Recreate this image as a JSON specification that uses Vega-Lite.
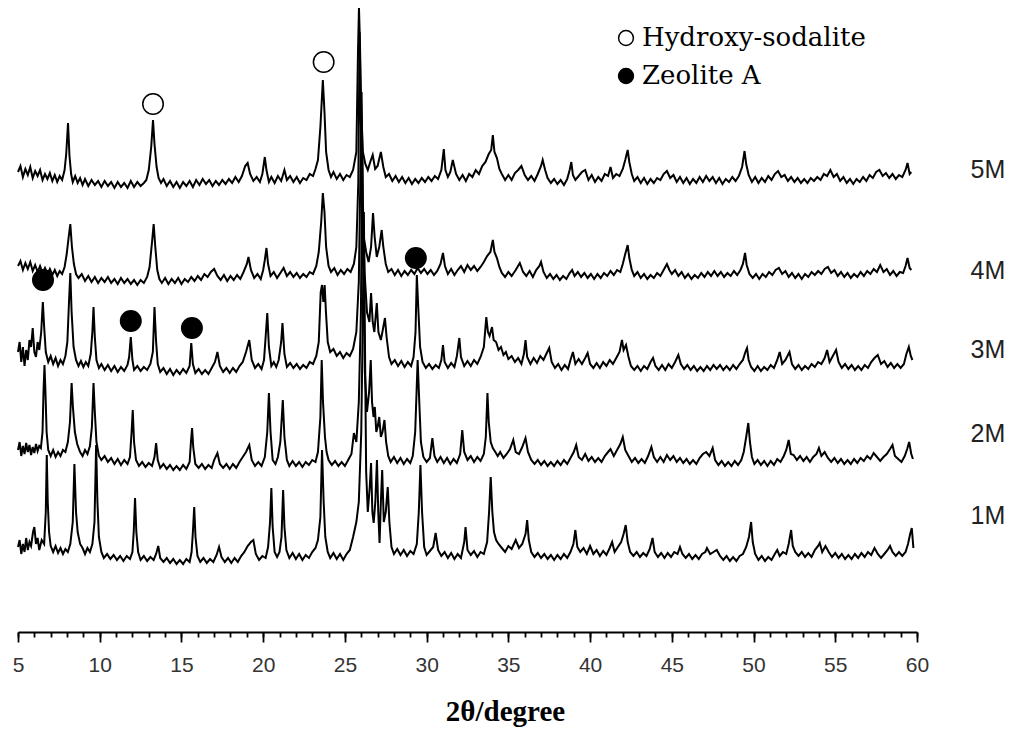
{
"$schema":"https://vega.github.io/schema/vega-lite/v6.json",
"width":899,"height":632,
"autosize":{"type":"none"},
"padding":{"left":18,"top":0,"right":94,"bottom":97},
"background":"white",
"config":{"view":{"stroke":null},"axis":{"grid":false}},
"datasets":{
"traces":[
{"s":5,"x":5.0,"y":460},{"s":5,"x":5.15,"y":466},{"s":5,"x":5.3,"y":455},{"s":5,"x":5.45,"y":463},{"s":5,"x":5.6,"y":457},{"s":5,"x":5.75,"y":465},{"s":5,"x":5.9,"y":454},{"s":5,"x":6.05,"y":461},{"s":5,"x":6.2,"y":456},{"s":5,"x":6.35,"y":462},{"s":5,"x":6.5,"y":452},{"s":5,"x":6.65,"y":458},{"s":5,"x":6.8,"y":453},{"s":5,"x":6.95,"y":459},{"s":5,"x":7.1,"y":451},{"s":5,"x":7.25,"y":457},{"s":5,"x":7.4,"y":450},{"s":5,"x":7.55,"y":456},{"s":5,"x":7.7,"y":452},{"s":5,"x":7.85,"y":462},{"s":5,"x":7.95,"y":478},{"s":5,"x":8.06,"y":509},{"s":5,"x":8.15,"y":476},{"s":5,"x":8.25,"y":458},{"s":5,"x":8.35,"y":450},{"s":5,"x":8.5,"y":456},{"s":5,"x":8.65,"y":449},{"s":5,"x":8.8,"y":454},{"s":5,"x":8.95,"y":447},{"s":5,"x":9.1,"y":453},{"s":5,"x":9.3,"y":446},{"s":5,"x":9.5,"y":452},{"s":5,"x":9.7,"y":447},{"s":5,"x":9.9,"y":451},{"s":5,"x":10.1,"y":445},{"s":5,"x":10.3,"y":451},{"s":5,"x":10.5,"y":446},{"s":5,"x":10.7,"y":450},{"s":5,"x":10.9,"y":444},{"s":5,"x":11.1,"y":450},{"s":5,"x":11.3,"y":445},{"s":5,"x":11.5,"y":449},{"s":5,"x":11.7,"y":444},{"s":5,"x":11.9,"y":451},{"s":5,"x":12.1,"y":445},{"s":5,"x":12.3,"y":450},{"s":5,"x":12.5,"y":446},{"s":5,"x":12.7,"y":449},{"s":5,"x":12.85,"y":452},{"s":5,"x":13.0,"y":462},{"s":5,"x":13.15,"y":485},{"s":5,"x":13.26,"y":512},{"s":5,"x":13.35,"y":488},{"s":5,"x":13.48,"y":465},{"s":5,"x":13.6,"y":454},{"s":5,"x":13.75,"y":449},{"s":5,"x":13.9,"y":453},{"s":5,"x":14.1,"y":446},{"s":5,"x":14.3,"y":451},{"s":5,"x":14.5,"y":445},{"s":5,"x":14.7,"y":450},{"s":5,"x":14.9,"y":444},{"s":5,"x":15.1,"y":450},{"s":5,"x":15.3,"y":446},{"s":5,"x":15.5,"y":451},{"s":5,"x":15.7,"y":445},{"s":5,"x":15.9,"y":452},{"s":5,"x":16.1,"y":447},{"s":5,"x":16.3,"y":453},{"s":5,"x":16.5,"y":448},{"s":5,"x":16.7,"y":452},{"s":5,"x":16.9,"y":446},{"s":5,"x":17.1,"y":451},{"s":5,"x":17.3,"y":447},{"s":5,"x":17.5,"y":452},{"s":5,"x":17.7,"y":448},{"s":5,"x":17.9,"y":453},{"s":5,"x":18.1,"y":449},{"s":5,"x":18.3,"y":455},{"s":5,"x":18.5,"y":450},{"s":5,"x":18.7,"y":456},{"s":5,"x":18.9,"y":466},{"s":5,"x":19.05,"y":469},{"s":5,"x":19.2,"y":458},{"s":5,"x":19.4,"y":451},{"s":5,"x":19.6,"y":455},{"s":5,"x":19.8,"y":450},{"s":5,"x":19.95,"y":458},{"s":5,"x":20.1,"y":475},{"s":5,"x":20.2,"y":462},{"s":5,"x":20.35,"y":450},{"s":5,"x":20.5,"y":455},{"s":5,"x":20.7,"y":449},{"s":5,"x":20.9,"y":456},{"s":5,"x":21.1,"y":451},{"s":5,"x":21.3,"y":462},{"s":5,"x":21.45,"y":452},{"s":5,"x":21.65,"y":456},{"s":5,"x":21.85,"y":450},{"s":5,"x":22.05,"y":455},{"s":5,"x":22.25,"y":449},{"s":5,"x":22.45,"y":454},{"s":5,"x":22.65,"y":452},{"s":5,"x":22.85,"y":458},{"s":5,"x":23.05,"y":456},{"s":5,"x":23.2,"y":463},{"s":5,"x":23.35,"y":472},{"s":5,"x":23.5,"y":505},{"s":5,"x":23.65,"y":552},{"s":5,"x":23.75,"y":520},{"s":5,"x":23.85,"y":480},{"s":5,"x":24.0,"y":462},{"s":5,"x":24.15,"y":455},{"s":5,"x":24.3,"y":460},{"s":5,"x":24.5,"y":453},{"s":5,"x":24.7,"y":458},{"s":5,"x":24.9,"y":452},{"s":5,"x":25.1,"y":457},{"s":5,"x":25.3,"y":455},{"s":5,"x":25.5,"y":462},{"s":5,"x":25.7,"y":480},{"s":5,"x":25.8,"y":580},{"s":5,"x":25.86,"y":624},{"s":5,"x":25.92,"y":590},{"s":5,"x":26.0,"y":520},{"s":5,"x":26.1,"y":480},{"s":5,"x":26.25,"y":468},{"s":5,"x":26.4,"y":462},{"s":5,"x":26.55,"y":470},{"s":5,"x":26.7,"y":477},{"s":5,"x":26.85,"y":463},{"s":5,"x":27.0,"y":466},{"s":5,"x":27.2,"y":480},{"s":5,"x":27.35,"y":465},{"s":5,"x":27.5,"y":455},{"s":5,"x":27.7,"y":458},{"s":5,"x":27.9,"y":451},{"s":5,"x":28.1,"y":456},{"s":5,"x":28.3,"y":450},{"s":5,"x":28.5,"y":455},{"s":5,"x":28.7,"y":449},{"s":5,"x":28.9,"y":454},{"s":5,"x":29.1,"y":448},{"s":5,"x":29.3,"y":453},{"s":5,"x":29.5,"y":449},{"s":5,"x":29.7,"y":454},{"s":5,"x":29.9,"y":450},{"s":5,"x":30.1,"y":455},{"s":5,"x":30.3,"y":451},{"s":5,"x":30.5,"y":456},{"s":5,"x":30.7,"y":453},{"s":5,"x":30.9,"y":462},{"s":5,"x":31.05,"y":483},{"s":5,"x":31.15,"y":462},{"s":5,"x":31.3,"y":455},{"s":5,"x":31.45,"y":460},{"s":5,"x":31.6,"y":472},{"s":5,"x":31.8,"y":458},{"s":5,"x":32.0,"y":452},{"s":5,"x":32.2,"y":457},{"s":5,"x":32.4,"y":451},{"s":5,"x":32.6,"y":458},{"s":5,"x":32.8,"y":455},{"s":5,"x":33.0,"y":462},{"s":5,"x":33.2,"y":458},{"s":5,"x":33.4,"y":466},{"s":5,"x":33.6,"y":470},{"s":5,"x":33.8,"y":478},{"s":5,"x":33.95,"y":482},{"s":5,"x":34.05,"y":497},{"s":5,"x":34.15,"y":480},{"s":5,"x":34.3,"y":474},{"s":5,"x":34.45,"y":463},{"s":5,"x":34.6,"y":458},{"s":5,"x":34.8,"y":452},{"s":5,"x":35.0,"y":457},{"s":5,"x":35.2,"y":452},{"s":5,"x":35.4,"y":459},{"s":5,"x":35.6,"y":462},{"s":5,"x":35.8,"y":466},{"s":5,"x":36.0,"y":457},{"s":5,"x":36.2,"y":452},{"s":5,"x":36.4,"y":456},{"s":5,"x":36.6,"y":451},{"s":5,"x":36.8,"y":458},{"s":5,"x":37.0,"y":466},{"s":5,"x":37.1,"y":472},{"s":5,"x":37.25,"y":462},{"s":5,"x":37.4,"y":454},{"s":5,"x":37.6,"y":449},{"s":5,"x":37.8,"y":453},{"s":5,"x":38.0,"y":448},{"s":5,"x":38.2,"y":452},{"s":5,"x":38.4,"y":447},{"s":5,"x":38.6,"y":453},{"s":5,"x":38.75,"y":462},{"s":5,"x":38.85,"y":470},{"s":5,"x":38.95,"y":457},{"s":5,"x":39.1,"y":452},{"s":5,"x":39.3,"y":456},{"s":5,"x":39.5,"y":460},{"s":5,"x":39.7,"y":462},{"s":5,"x":39.9,"y":452},{"s":5,"x":40.1,"y":457},{"s":5,"x":40.3,"y":450},{"s":5,"x":40.5,"y":455},{"s":5,"x":40.7,"y":451},{"s":5,"x":40.9,"y":458},{"s":5,"x":41.1,"y":456},{"s":5,"x":41.25,"y":465},{"s":5,"x":41.4,"y":454},{"s":5,"x":41.6,"y":458},{"s":5,"x":41.8,"y":456},{"s":5,"x":42.0,"y":463},{"s":5,"x":42.15,"y":472},{"s":5,"x":42.3,"y":482},{"s":5,"x":42.4,"y":470},{"s":5,"x":42.55,"y":458},{"s":5,"x":42.7,"y":451},{"s":5,"x":42.9,"y":455},{"s":5,"x":43.1,"y":449},{"s":5,"x":43.3,"y":454},{"s":5,"x":43.5,"y":448},{"s":5,"x":43.7,"y":453},{"s":5,"x":43.9,"y":449},{"s":5,"x":44.1,"y":454},{"s":5,"x":44.3,"y":452},{"s":5,"x":44.5,"y":458},{"s":5,"x":44.7,"y":461},{"s":5,"x":44.9,"y":454},{"s":5,"x":45.1,"y":457},{"s":5,"x":45.3,"y":450},{"s":5,"x":45.5,"y":455},{"s":5,"x":45.7,"y":449},{"s":5,"x":45.9,"y":454},{"s":5,"x":46.1,"y":448},{"s":5,"x":46.3,"y":453},{"s":5,"x":46.5,"y":449},{"s":5,"x":46.7,"y":455},{"s":5,"x":46.9,"y":450},{"s":5,"x":47.1,"y":456},{"s":5,"x":47.3,"y":451},{"s":5,"x":47.5,"y":455},{"s":5,"x":47.7,"y":449},{"s":5,"x":47.9,"y":454},{"s":5,"x":48.1,"y":448},{"s":5,"x":48.3,"y":453},{"s":5,"x":48.5,"y":450},{"s":5,"x":48.7,"y":455},{"s":5,"x":48.9,"y":451},{"s":5,"x":49.1,"y":456},{"s":5,"x":49.3,"y":465},{"s":5,"x":49.45,"y":481},{"s":5,"x":49.55,"y":468},{"s":5,"x":49.7,"y":457},{"s":5,"x":49.9,"y":450},{"s":5,"x":50.1,"y":455},{"s":5,"x":50.3,"y":449},{"s":5,"x":50.5,"y":454},{"s":5,"x":50.7,"y":450},{"s":5,"x":50.9,"y":456},{"s":5,"x":51.1,"y":452},{"s":5,"x":51.3,"y":458},{"s":5,"x":51.5,"y":461},{"s":5,"x":51.7,"y":455},{"s":5,"x":51.9,"y":457},{"s":5,"x":52.1,"y":451},{"s":5,"x":52.3,"y":455},{"s":5,"x":52.5,"y":450},{"s":5,"x":52.7,"y":454},{"s":5,"x":52.9,"y":449},{"s":5,"x":53.1,"y":453},{"s":5,"x":53.3,"y":449},{"s":5,"x":53.5,"y":454},{"s":5,"x":53.7,"y":451},{"s":5,"x":53.9,"y":455},{"s":5,"x":54.1,"y":452},{"s":5,"x":54.3,"y":458},{"s":5,"x":54.5,"y":456},{"s":5,"x":54.7,"y":462},{"s":5,"x":54.9,"y":455},{"s":5,"x":55.1,"y":458},{"s":5,"x":55.3,"y":451},{"s":5,"x":55.5,"y":455},{"s":5,"x":55.7,"y":449},{"s":5,"x":55.9,"y":453},{"s":5,"x":56.1,"y":448},{"s":5,"x":56.3,"y":453},{"s":5,"x":56.5,"y":450},{"s":5,"x":56.7,"y":455},{"s":5,"x":56.9,"y":451},{"s":5,"x":57.1,"y":457},{"s":5,"x":57.3,"y":454},{"s":5,"x":57.5,"y":460},{"s":5,"x":57.7,"y":462},{"s":5,"x":57.9,"y":456},{"s":5,"x":58.1,"y":459},{"s":5,"x":58.3,"y":454},{"s":5,"x":58.5,"y":458},{"s":5,"x":58.7,"y":453},{"s":5,"x":58.9,"y":457},{"s":5,"x":59.1,"y":455},{"s":5,"x":59.3,"y":462},{"s":5,"x":59.42,"y":469},{"s":5,"x":59.55,"y":458},{"s":5,"x":59.65,"y":460},
{"s":4,"x":5.0,"y":366},{"s":4,"x":5.15,"y":371},{"s":4,"x":5.3,"y":362},{"s":4,"x":5.45,"y":369},{"s":4,"x":5.6,"y":363},{"s":4,"x":5.75,"y":370},{"s":4,"x":5.9,"y":361},{"s":4,"x":6.05,"y":367},{"s":4,"x":6.2,"y":360},{"s":4,"x":6.35,"y":366},{"s":4,"x":6.5,"y":359},{"s":4,"x":6.65,"y":364},{"s":4,"x":6.8,"y":358},{"s":4,"x":6.95,"y":363},{"s":4,"x":7.1,"y":357},{"s":4,"x":7.25,"y":362},{"s":4,"x":7.4,"y":356},{"s":4,"x":7.55,"y":361},{"s":4,"x":7.7,"y":358},{"s":4,"x":7.85,"y":365},{"s":4,"x":7.98,"y":378},{"s":4,"x":8.1,"y":395},{"s":4,"x":8.2,"y":408},{"s":4,"x":8.3,"y":385},{"s":4,"x":8.42,"y":368},{"s":4,"x":8.55,"y":358},{"s":4,"x":8.7,"y":354},{"s":4,"x":8.9,"y":358},{"s":4,"x":9.1,"y":351},{"s":4,"x":9.3,"y":356},{"s":4,"x":9.5,"y":350},{"s":4,"x":9.7,"y":355},{"s":4,"x":9.9,"y":349},{"s":4,"x":10.1,"y":354},{"s":4,"x":10.3,"y":350},{"s":4,"x":10.5,"y":355},{"s":4,"x":10.7,"y":349},{"s":4,"x":10.9,"y":353},{"s":4,"x":11.1,"y":348},{"s":4,"x":11.3,"y":354},{"s":4,"x":11.5,"y":349},{"s":4,"x":11.7,"y":353},{"s":4,"x":11.9,"y":348},{"s":4,"x":12.1,"y":352},{"s":4,"x":12.3,"y":347},{"s":4,"x":12.5,"y":352},{"s":4,"x":12.7,"y":349},{"s":4,"x":12.9,"y":355},{"s":4,"x":13.05,"y":365},{"s":4,"x":13.2,"y":390},{"s":4,"x":13.3,"y":408},{"s":4,"x":13.4,"y":385},{"s":4,"x":13.52,"y":362},{"s":4,"x":13.65,"y":353},{"s":4,"x":13.8,"y":349},{"s":4,"x":14.0,"y":354},{"s":4,"x":14.2,"y":348},{"s":4,"x":14.4,"y":353},{"s":4,"x":14.6,"y":349},{"s":4,"x":14.8,"y":354},{"s":4,"x":15.0,"y":348},{"s":4,"x":15.2,"y":353},{"s":4,"x":15.4,"y":350},{"s":4,"x":15.6,"y":355},{"s":4,"x":15.8,"y":351},{"s":4,"x":16.0,"y":356},{"s":4,"x":16.2,"y":352},{"s":4,"x":16.4,"y":358},{"s":4,"x":16.6,"y":355},{"s":4,"x":16.8,"y":360},{"s":4,"x":17.0,"y":363},{"s":4,"x":17.2,"y":356},{"s":4,"x":17.4,"y":352},{"s":4,"x":17.6,"y":357},{"s":4,"x":17.8,"y":351},{"s":4,"x":18.0,"y":356},{"s":4,"x":18.2,"y":352},{"s":4,"x":18.4,"y":357},{"s":4,"x":18.6,"y":353},{"s":4,"x":18.8,"y":360},{"s":4,"x":19.0,"y":368},{"s":4,"x":19.1,"y":375},{"s":4,"x":19.25,"y":362},{"s":4,"x":19.45,"y":354},{"s":4,"x":19.65,"y":358},{"s":4,"x":19.85,"y":353},{"s":4,"x":20.0,"y":362},{"s":4,"x":20.1,"y":372},{"s":4,"x":20.2,"y":384},{"s":4,"x":20.3,"y":368},{"s":4,"x":20.45,"y":356},{"s":4,"x":20.65,"y":360},{"s":4,"x":20.85,"y":354},{"s":4,"x":21.05,"y":359},{"s":4,"x":21.25,"y":364},{"s":4,"x":21.45,"y":356},{"s":4,"x":21.65,"y":360},{"s":4,"x":21.85,"y":355},{"s":4,"x":22.05,"y":359},{"s":4,"x":22.25,"y":354},{"s":4,"x":22.45,"y":358},{"s":4,"x":22.65,"y":355},{"s":4,"x":22.85,"y":360},{"s":4,"x":23.05,"y":358},{"s":4,"x":23.25,"y":366},{"s":4,"x":23.4,"y":380},{"s":4,"x":23.55,"y":410},{"s":4,"x":23.65,"y":439},{"s":4,"x":23.75,"y":420},{"s":4,"x":23.85,"y":385},{"s":4,"x":24.0,"y":366},{"s":4,"x":24.15,"y":360},{"s":4,"x":24.35,"y":364},{"s":4,"x":24.55,"y":357},{"s":4,"x":24.75,"y":362},{"s":4,"x":24.95,"y":358},{"s":4,"x":25.15,"y":363},{"s":4,"x":25.35,"y":360},{"s":4,"x":25.55,"y":368},{"s":4,"x":25.7,"y":385},{"s":4,"x":25.82,"y":450},{"s":4,"x":25.9,"y":600},{"s":4,"x":25.97,"y":520},{"s":4,"x":26.05,"y":430},{"s":4,"x":26.15,"y":395},{"s":4,"x":26.3,"y":380},{"s":4,"x":26.45,"y":370},{"s":4,"x":26.6,"y":385},{"s":4,"x":26.72,"y":419},{"s":4,"x":26.82,"y":395},{"s":4,"x":26.95,"y":375},{"s":4,"x":27.1,"y":385},{"s":4,"x":27.25,"y":402},{"s":4,"x":27.35,"y":385},{"s":4,"x":27.5,"y":368},{"s":4,"x":27.65,"y":360},{"s":4,"x":27.85,"y":363},{"s":4,"x":28.05,"y":357},{"s":4,"x":28.25,"y":362},{"s":4,"x":28.45,"y":356},{"s":4,"x":28.65,"y":361},{"s":4,"x":28.85,"y":357},{"s":4,"x":29.05,"y":362},{"s":4,"x":29.25,"y":358},{"s":4,"x":29.45,"y":364},{"s":4,"x":29.65,"y":359},{"s":4,"x":29.85,"y":363},{"s":4,"x":30.05,"y":358},{"s":4,"x":30.25,"y":362},{"s":4,"x":30.45,"y":357},{"s":4,"x":30.65,"y":361},{"s":4,"x":30.85,"y":368},{"s":4,"x":31.0,"y":379},{"s":4,"x":31.12,"y":366},{"s":4,"x":31.3,"y":358},{"s":4,"x":31.5,"y":363},{"s":4,"x":31.7,"y":357},{"s":4,"x":31.9,"y":362},{"s":4,"x":32.1,"y":366},{"s":4,"x":32.3,"y":360},{"s":4,"x":32.5,"y":367},{"s":4,"x":32.7,"y":362},{"s":4,"x":32.9,"y":366},{"s":4,"x":33.1,"y":361},{"s":4,"x":33.3,"y":365},{"s":4,"x":33.5,"y":370},{"s":4,"x":33.7,"y":376},{"s":4,"x":33.9,"y":380},{"s":4,"x":34.05,"y":392},{"s":4,"x":34.15,"y":380},{"s":4,"x":34.3,"y":374},{"s":4,"x":34.45,"y":365},{"s":4,"x":34.6,"y":359},{"s":4,"x":34.8,"y":355},{"s":4,"x":35.0,"y":360},{"s":4,"x":35.2,"y":356},{"s":4,"x":35.45,"y":362},{"s":4,"x":35.7,"y":369},{"s":4,"x":35.9,"y":360},{"s":4,"x":36.1,"y":356},{"s":4,"x":36.3,"y":361},{"s":4,"x":36.5,"y":355},{"s":4,"x":36.7,"y":362},{"s":4,"x":36.9,"y":366},{"s":4,"x":37.0,"y":370},{"s":4,"x":37.15,"y":360},{"s":4,"x":37.35,"y":354},{"s":4,"x":37.55,"y":358},{"s":4,"x":37.75,"y":353},{"s":4,"x":37.95,"y":357},{"s":4,"x":38.15,"y":352},{"s":4,"x":38.35,"y":356},{"s":4,"x":38.55,"y":353},{"s":4,"x":38.75,"y":359},{"s":4,"x":38.9,"y":362},{"s":4,"x":39.05,"y":356},{"s":4,"x":39.25,"y":360},{"s":4,"x":39.45,"y":355},{"s":4,"x":39.65,"y":359},{"s":4,"x":39.85,"y":354},{"s":4,"x":40.05,"y":358},{"s":4,"x":40.25,"y":353},{"s":4,"x":40.45,"y":358},{"s":4,"x":40.65,"y":354},{"s":4,"x":40.85,"y":359},{"s":4,"x":41.05,"y":356},{"s":4,"x":41.25,"y":361},{"s":4,"x":41.45,"y":357},{"s":4,"x":41.65,"y":362},{"s":4,"x":41.85,"y":360},{"s":4,"x":42.0,"y":368},{"s":4,"x":42.15,"y":378},{"s":4,"x":42.3,"y":387},{"s":4,"x":42.4,"y":374},{"s":4,"x":42.55,"y":362},{"s":4,"x":42.7,"y":356},{"s":4,"x":42.9,"y":360},{"s":4,"x":43.1,"y":354},{"s":4,"x":43.3,"y":358},{"s":4,"x":43.5,"y":353},{"s":4,"x":43.7,"y":357},{"s":4,"x":43.9,"y":354},{"s":4,"x":44.1,"y":359},{"s":4,"x":44.3,"y":356},{"s":4,"x":44.5,"y":362},{"s":4,"x":44.7,"y":368},{"s":4,"x":44.85,"y":362},{"s":4,"x":45.0,"y":358},{"s":4,"x":45.2,"y":362},{"s":4,"x":45.4,"y":356},{"s":4,"x":45.6,"y":360},{"s":4,"x":45.8,"y":354},{"s":4,"x":46.0,"y":358},{"s":4,"x":46.2,"y":353},{"s":4,"x":46.4,"y":357},{"s":4,"x":46.6,"y":354},{"s":4,"x":46.8,"y":359},{"s":4,"x":47.0,"y":355},{"s":4,"x":47.2,"y":360},{"s":4,"x":47.4,"y":356},{"s":4,"x":47.6,"y":361},{"s":4,"x":47.8,"y":356},{"s":4,"x":48.0,"y":360},{"s":4,"x":48.2,"y":355},{"s":4,"x":48.4,"y":359},{"s":4,"x":48.6,"y":356},{"s":4,"x":48.8,"y":361},{"s":4,"x":49.0,"y":357},{"s":4,"x":49.2,"y":362},{"s":4,"x":49.35,"y":368},{"s":4,"x":49.48,"y":379},{"s":4,"x":49.58,"y":367},{"s":4,"x":49.75,"y":358},{"s":4,"x":49.95,"y":354},{"s":4,"x":50.15,"y":358},{"s":4,"x":50.35,"y":353},{"s":4,"x":50.55,"y":358},{"s":4,"x":50.75,"y":355},{"s":4,"x":50.95,"y":360},{"s":4,"x":51.15,"y":357},{"s":4,"x":51.35,"y":362},{"s":4,"x":51.55,"y":364},{"s":4,"x":51.75,"y":358},{"s":4,"x":51.95,"y":361},{"s":4,"x":52.15,"y":355},{"s":4,"x":52.35,"y":359},{"s":4,"x":52.55,"y":354},{"s":4,"x":52.75,"y":358},{"s":4,"x":52.95,"y":353},{"s":4,"x":53.15,"y":358},{"s":4,"x":53.35,"y":355},{"s":4,"x":53.55,"y":360},{"s":4,"x":53.75,"y":357},{"s":4,"x":53.95,"y":361},{"s":4,"x":54.15,"y":358},{"s":4,"x":54.35,"y":363},{"s":4,"x":54.55,"y":365},{"s":4,"x":54.75,"y":359},{"s":4,"x":54.95,"y":362},{"s":4,"x":55.15,"y":356},{"s":4,"x":55.35,"y":360},{"s":4,"x":55.55,"y":355},{"s":4,"x":55.75,"y":359},{"s":4,"x":55.95,"y":354},{"s":4,"x":56.15,"y":358},{"s":4,"x":56.35,"y":355},{"s":4,"x":56.55,"y":360},{"s":4,"x":56.75,"y":356},{"s":4,"x":56.95,"y":361},{"s":4,"x":57.15,"y":358},{"s":4,"x":57.35,"y":363},{"s":4,"x":57.55,"y":360},{"s":4,"x":57.75,"y":367},{"s":4,"x":57.95,"y":360},{"s":4,"x":58.15,"y":363},{"s":4,"x":58.35,"y":357},{"s":4,"x":58.55,"y":361},{"s":4,"x":58.75,"y":356},{"s":4,"x":58.95,"y":360},{"s":4,"x":59.15,"y":359},{"s":4,"x":59.3,"y":366},{"s":4,"x":59.42,"y":374},{"s":4,"x":59.55,"y":364},{"s":4,"x":59.65,"y":362},
{"s":3,"x":5.0,"y":280},{"s":3,"x":5.1,"y":290},{"s":3,"x":5.2,"y":270},{"s":3,"x":5.3,"y":285},{"s":3,"x":5.4,"y":266},{"s":3,"x":5.5,"y":282},{"s":3,"x":5.6,"y":272},{"s":3,"x":5.7,"y":292},{"s":3,"x":5.8,"y":285},{"s":3,"x":5.9,"y":304},{"s":3,"x":6.0,"y":280},{"s":3,"x":6.1,"y":275},{"s":3,"x":6.2,"y":290},{"s":3,"x":6.3,"y":282},{"s":3,"x":6.42,"y":300},{"s":3,"x":6.52,"y":330},{"s":3,"x":6.6,"y":305},{"s":3,"x":6.7,"y":280},{"s":3,"x":6.85,"y":270},{"s":3,"x":7.0,"y":276},{"s":3,"x":7.15,"y":268},{"s":3,"x":7.3,"y":274},{"s":3,"x":7.45,"y":266},{"s":3,"x":7.6,"y":272},{"s":3,"x":7.75,"y":268},{"s":3,"x":7.9,"y":276},{"s":3,"x":8.02,"y":290},{"s":3,"x":8.12,"y":330},{"s":3,"x":8.2,"y":359},{"s":3,"x":8.28,"y":320},{"s":3,"x":8.4,"y":285},{"s":3,"x":8.55,"y":272},{"s":3,"x":8.7,"y":266},{"s":3,"x":8.85,"y":271},{"s":3,"x":9.0,"y":265},{"s":3,"x":9.15,"y":270},{"s":3,"x":9.3,"y":266},{"s":3,"x":9.45,"y":278},{"s":3,"x":9.55,"y":300},{"s":3,"x":9.62,"y":325},{"s":3,"x":9.7,"y":295},{"s":3,"x":9.8,"y":272},{"s":3,"x":9.95,"y":264},{"s":3,"x":10.1,"y":268},{"s":3,"x":10.3,"y":262},{"s":3,"x":10.5,"y":267},{"s":3,"x":10.7,"y":261},{"s":3,"x":10.9,"y":266},{"s":3,"x":11.1,"y":260},{"s":3,"x":11.3,"y":265},{"s":3,"x":11.5,"y":261},{"s":3,"x":11.7,"y":267},{"s":3,"x":11.8,"y":275},{"s":3,"x":11.9,"y":295},{"s":3,"x":12.0,"y":272},{"s":3,"x":12.1,"y":262},{"s":3,"x":12.3,"y":266},{"s":3,"x":12.5,"y":261},{"s":3,"x":12.7,"y":265},{"s":3,"x":12.9,"y":262},{"s":3,"x":13.1,"y":268},{"s":3,"x":13.25,"y":280},{"s":3,"x":13.35,"y":325},{"s":3,"x":13.45,"y":290},{"s":3,"x":13.55,"y":268},{"s":3,"x":13.7,"y":260},{"s":3,"x":13.9,"y":264},{"s":3,"x":14.1,"y":258},{"s":3,"x":14.3,"y":263},{"s":3,"x":14.5,"y":257},{"s":3,"x":14.7,"y":262},{"s":3,"x":14.9,"y":258},{"s":3,"x":15.1,"y":263},{"s":3,"x":15.3,"y":259},{"s":3,"x":15.5,"y":266},{"s":3,"x":15.6,"y":289},{"s":3,"x":15.7,"y":268},{"s":3,"x":15.85,"y":259},{"s":3,"x":16.05,"y":263},{"s":3,"x":16.25,"y":258},{"s":3,"x":16.45,"y":262},{"s":3,"x":16.65,"y":258},{"s":3,"x":16.85,"y":264},{"s":3,"x":17.05,"y":270},{"s":3,"x":17.2,"y":280},{"s":3,"x":17.35,"y":266},{"s":3,"x":17.55,"y":260},{"s":3,"x":17.75,"y":264},{"s":3,"x":17.95,"y":259},{"s":3,"x":18.15,"y":264},{"s":3,"x":18.35,"y":260},{"s":3,"x":18.55,"y":266},{"s":3,"x":18.75,"y":270},{"s":3,"x":18.95,"y":280},{"s":3,"x":19.15,"y":292},{"s":3,"x":19.3,"y":272},{"s":3,"x":19.5,"y":264},{"s":3,"x":19.7,"y":268},{"s":3,"x":19.9,"y":263},{"s":3,"x":20.05,"y":272},{"s":3,"x":20.15,"y":295},{"s":3,"x":20.25,"y":319},{"s":3,"x":20.35,"y":285},{"s":3,"x":20.5,"y":266},{"s":3,"x":20.65,"y":270},{"s":3,"x":20.8,"y":265},{"s":3,"x":20.95,"y":272},{"s":3,"x":21.1,"y":290},{"s":3,"x":21.18,"y":309},{"s":3,"x":21.3,"y":278},{"s":3,"x":21.45,"y":265},{"s":3,"x":21.65,"y":269},{"s":3,"x":21.85,"y":264},{"s":3,"x":22.05,"y":268},{"s":3,"x":22.25,"y":263},{"s":3,"x":22.45,"y":267},{"s":3,"x":22.65,"y":264},{"s":3,"x":22.85,"y":270},{"s":3,"x":23.05,"y":268},{"s":3,"x":23.25,"y":276},{"s":3,"x":23.4,"y":290},{"s":3,"x":23.52,"y":340},{"s":3,"x":23.6,"y":347},{"s":3,"x":23.68,"y":330},{"s":3,"x":23.76,"y":347},{"s":3,"x":23.84,"y":320},{"s":3,"x":23.95,"y":290},{"s":3,"x":24.1,"y":280},{"s":3,"x":24.3,"y":283},{"s":3,"x":24.5,"y":276},{"s":3,"x":24.7,"y":280},{"s":3,"x":24.9,"y":274},{"s":3,"x":25.1,"y":279},{"s":3,"x":25.3,"y":276},{"s":3,"x":25.5,"y":283},{"s":3,"x":25.7,"y":300},{"s":3,"x":25.85,"y":350},{"s":3,"x":25.95,"y":460},{"s":3,"x":26.02,"y":540},{"s":3,"x":26.1,"y":430},{"s":3,"x":26.2,"y":360},{"s":3,"x":26.35,"y":320},{"s":3,"x":26.5,"y":310},{"s":3,"x":26.6,"y":339},{"s":3,"x":26.7,"y":310},{"s":3,"x":26.8,"y":300},{"s":3,"x":26.95,"y":329},{"s":3,"x":27.05,"y":300},{"s":3,"x":27.2,"y":292},{"s":3,"x":27.35,"y":305},{"s":3,"x":27.45,"y":314},{"s":3,"x":27.55,"y":295},{"s":3,"x":27.7,"y":275},{"s":3,"x":27.85,"y":268},{"s":3,"x":28.05,"y":272},{"s":3,"x":28.25,"y":266},{"s":3,"x":28.45,"y":271},{"s":3,"x":28.65,"y":265},{"s":3,"x":28.85,"y":270},{"s":3,"x":29.05,"y":266},{"s":3,"x":29.2,"y":275},{"s":3,"x":29.32,"y":300},{"s":3,"x":29.4,"y":357},{"s":3,"x":29.5,"y":320},{"s":3,"x":29.6,"y":285},{"s":3,"x":29.75,"y":270},{"s":3,"x":29.95,"y":264},{"s":3,"x":30.15,"y":268},{"s":3,"x":30.35,"y":263},{"s":3,"x":30.55,"y":267},{"s":3,"x":30.75,"y":264},{"s":3,"x":30.9,"y":272},{"s":3,"x":31.0,"y":287},{"s":3,"x":31.1,"y":270},{"s":3,"x":31.3,"y":264},{"s":3,"x":31.5,"y":269},{"s":3,"x":31.7,"y":265},{"s":3,"x":31.85,"y":276},{"s":3,"x":32.0,"y":294},{"s":3,"x":32.1,"y":275},{"s":3,"x":32.3,"y":266},{"s":3,"x":32.5,"y":271},{"s":3,"x":32.7,"y":266},{"s":3,"x":32.9,"y":272},{"s":3,"x":33.1,"y":268},{"s":3,"x":33.3,"y":275},{"s":3,"x":33.5,"y":285},{"s":3,"x":33.65,"y":315},{"s":3,"x":33.75,"y":300},{"s":3,"x":33.85,"y":296},{"s":3,"x":34.0,"y":305},{"s":3,"x":34.1,"y":292},{"s":3,"x":34.25,"y":290},{"s":3,"x":34.4,"y":282},{"s":3,"x":34.55,"y":285},{"s":3,"x":34.7,"y":277},{"s":3,"x":34.85,"y":280},{"s":3,"x":35.0,"y":273},{"s":3,"x":35.2,"y":276},{"s":3,"x":35.4,"y":270},{"s":3,"x":35.6,"y":274},{"s":3,"x":35.8,"y":268},{"s":3,"x":35.95,"y":278},{"s":3,"x":36.05,"y":292},{"s":3,"x":36.15,"y":275},{"s":3,"x":36.35,"y":268},{"s":3,"x":36.55,"y":274},{"s":3,"x":36.75,"y":269},{"s":3,"x":36.95,"y":276},{"s":3,"x":37.15,"y":272},{"s":3,"x":37.35,"y":279},{"s":3,"x":37.5,"y":284},{"s":3,"x":37.65,"y":270},{"s":3,"x":37.85,"y":264},{"s":3,"x":38.05,"y":268},{"s":3,"x":38.25,"y":262},{"s":3,"x":38.45,"y":267},{"s":3,"x":38.65,"y":263},{"s":3,"x":38.8,"y":272},{"s":3,"x":38.95,"y":280},{"s":3,"x":39.1,"y":268},{"s":3,"x":39.3,"y":273},{"s":3,"x":39.5,"y":268},{"s":3,"x":39.7,"y":274},{"s":3,"x":39.85,"y":279},{"s":3,"x":40.0,"y":268},{"s":3,"x":40.2,"y":264},{"s":3,"x":40.4,"y":269},{"s":3,"x":40.6,"y":264},{"s":3,"x":40.8,"y":270},{"s":3,"x":41.0,"y":266},{"s":3,"x":41.2,"y":272},{"s":3,"x":41.4,"y":268},{"s":3,"x":41.6,"y":274},{"s":3,"x":41.8,"y":280},{"s":3,"x":41.95,"y":292},{"s":3,"x":42.05,"y":282},{"s":3,"x":42.2,"y":287},{"s":3,"x":42.35,"y":275},{"s":3,"x":42.5,"y":266},{"s":3,"x":42.7,"y":262},{"s":3,"x":42.9,"y":266},{"s":3,"x":43.1,"y":261},{"s":3,"x":43.3,"y":266},{"s":3,"x":43.5,"y":263},{"s":3,"x":43.7,"y":270},{"s":3,"x":43.85,"y":274},{"s":3,"x":44.0,"y":266},{"s":3,"x":44.2,"y":262},{"s":3,"x":44.4,"y":267},{"s":3,"x":44.6,"y":262},{"s":3,"x":44.8,"y":268},{"s":3,"x":45.0,"y":264},{"s":3,"x":45.2,"y":270},{"s":3,"x":45.4,"y":277},{"s":3,"x":45.55,"y":268},{"s":3,"x":45.75,"y":263},{"s":3,"x":45.95,"y":267},{"s":3,"x":46.15,"y":262},{"s":3,"x":46.35,"y":266},{"s":3,"x":46.55,"y":261},{"s":3,"x":46.75,"y":265},{"s":3,"x":46.95,"y":261},{"s":3,"x":47.15,"y":266},{"s":3,"x":47.35,"y":262},{"s":3,"x":47.55,"y":267},{"s":3,"x":47.75,"y":263},{"s":3,"x":47.95,"y":267},{"s":3,"x":48.15,"y":262},{"s":3,"x":48.35,"y":266},{"s":3,"x":48.55,"y":262},{"s":3,"x":48.75,"y":267},{"s":3,"x":48.95,"y":263},{"s":3,"x":49.15,"y":268},{"s":3,"x":49.35,"y":272},{"s":3,"x":49.5,"y":280},{"s":3,"x":49.6,"y":284},{"s":3,"x":49.7,"y":272},{"s":3,"x":49.85,"y":265},{"s":3,"x":50.05,"y":261},{"s":3,"x":50.25,"y":266},{"s":3,"x":50.45,"y":261},{"s":3,"x":50.65,"y":265},{"s":3,"x":50.85,"y":262},{"s":3,"x":51.05,"y":267},{"s":3,"x":51.25,"y":264},{"s":3,"x":51.45,"y":272},{"s":3,"x":51.6,"y":280},{"s":3,"x":51.75,"y":268},{"s":3,"x":51.95,"y":272},{"s":3,"x":52.2,"y":280},{"s":3,"x":52.35,"y":268},{"s":3,"x":52.55,"y":263},{"s":3,"x":52.75,"y":267},{"s":3,"x":52.95,"y":262},{"s":3,"x":53.15,"y":266},{"s":3,"x":53.35,"y":263},{"s":3,"x":53.55,"y":268},{"s":3,"x":53.75,"y":265},{"s":3,"x":53.95,"y":270},{"s":3,"x":54.15,"y":268},{"s":3,"x":54.35,"y":274},{"s":3,"x":54.5,"y":282},{"s":3,"x":54.65,"y":270},{"s":3,"x":54.85,"y":276},{"s":3,"x":55.05,"y":282},{"s":3,"x":55.2,"y":270},{"s":3,"x":55.4,"y":264},{"s":3,"x":55.6,"y":268},{"s":3,"x":55.8,"y":263},{"s":3,"x":56.0,"y":267},{"s":3,"x":56.2,"y":262},{"s":3,"x":56.4,"y":266},{"s":3,"x":56.6,"y":262},{"s":3,"x":56.8,"y":267},{"s":3,"x":57.0,"y":264},{"s":3,"x":57.2,"y":270},{"s":3,"x":57.4,"y":274},{"s":3,"x":57.6,"y":277},{"s":3,"x":57.8,"y":268},{"s":3,"x":58.0,"y":271},{"s":3,"x":58.2,"y":265},{"s":3,"x":58.4,"y":269},{"s":3,"x":58.6,"y":264},{"s":3,"x":58.8,"y":268},{"s":3,"x":59.0,"y":264},{"s":3,"x":59.2,"y":268},{"s":3,"x":59.35,"y":278},{"s":3,"x":59.5,"y":285},{"s":3,"x":59.62,"y":276},{"s":3,"x":59.72,"y":272},
{"s":2,"x":5.0,"y":182},{"s":2,"x":5.1,"y":190},{"s":2,"x":5.2,"y":176},{"s":2,"x":5.3,"y":186},{"s":2,"x":5.4,"y":178},{"s":2,"x":5.5,"y":189},{"s":2,"x":5.6,"y":180},{"s":2,"x":5.7,"y":187},{"s":2,"x":5.8,"y":177},{"s":2,"x":5.9,"y":185},{"s":2,"x":6.0,"y":179},{"s":2,"x":6.1,"y":188},{"s":2,"x":6.2,"y":181},{"s":2,"x":6.3,"y":186},{"s":2,"x":6.4,"y":184},{"s":2,"x":6.5,"y":200},{"s":2,"x":6.56,"y":240},{"s":2,"x":6.62,"y":267},{"s":2,"x":6.68,"y":240},{"s":2,"x":6.75,"y":200},{"s":2,"x":6.85,"y":182},{"s":2,"x":7.0,"y":176},{"s":2,"x":7.15,"y":182},{"s":2,"x":7.3,"y":175},{"s":2,"x":7.45,"y":180},{"s":2,"x":7.6,"y":176},{"s":2,"x":7.75,"y":182},{"s":2,"x":7.9,"y":180},{"s":2,"x":8.05,"y":190},{"s":2,"x":8.18,"y":210},{"s":2,"x":8.28,"y":249},{"s":2,"x":8.36,"y":225},{"s":2,"x":8.48,"y":200},{"s":2,"x":8.62,"y":188},{"s":2,"x":8.8,"y":180},{"s":2,"x":8.95,"y":176},{"s":2,"x":9.1,"y":182},{"s":2,"x":9.25,"y":178},{"s":2,"x":9.4,"y":186},{"s":2,"x":9.52,"y":205},{"s":2,"x":9.62,"y":249},{"s":2,"x":9.7,"y":220},{"s":2,"x":9.8,"y":190},{"s":2,"x":9.95,"y":176},{"s":2,"x":10.1,"y":172},{"s":2,"x":10.3,"y":176},{"s":2,"x":10.5,"y":170},{"s":2,"x":10.7,"y":174},{"s":2,"x":10.9,"y":168},{"s":2,"x":11.1,"y":173},{"s":2,"x":11.3,"y":167},{"s":2,"x":11.5,"y":172},{"s":2,"x":11.7,"y":168},{"s":2,"x":11.85,"y":175},{"s":2,"x":11.95,"y":200},{"s":2,"x":12.02,"y":222},{"s":2,"x":12.1,"y":190},{"s":2,"x":12.22,"y":172},{"s":2,"x":12.4,"y":166},{"s":2,"x":12.6,"y":170},{"s":2,"x":12.8,"y":165},{"s":2,"x":13.0,"y":169},{"s":2,"x":13.2,"y":166},{"s":2,"x":13.35,"y":175},{"s":2,"x":13.45,"y":189},{"s":2,"x":13.55,"y":172},{"s":2,"x":13.7,"y":164},{"s":2,"x":13.9,"y":168},{"s":2,"x":14.1,"y":163},{"s":2,"x":14.3,"y":167},{"s":2,"x":14.5,"y":162},{"s":2,"x":14.7,"y":166},{"s":2,"x":14.9,"y":162},{"s":2,"x":15.1,"y":167},{"s":2,"x":15.3,"y":163},{"s":2,"x":15.5,"y":170},{"s":2,"x":15.58,"y":190},{"s":2,"x":15.65,"y":204},{"s":2,"x":15.72,"y":185},{"s":2,"x":15.85,"y":168},{"s":2,"x":16.05,"y":164},{"s":2,"x":16.25,"y":168},{"s":2,"x":16.45,"y":163},{"s":2,"x":16.65,"y":167},{"s":2,"x":16.85,"y":164},{"s":2,"x":17.0,"y":172},{"s":2,"x":17.2,"y":179},{"s":2,"x":17.35,"y":168},{"s":2,"x":17.55,"y":164},{"s":2,"x":17.75,"y":168},{"s":2,"x":17.95,"y":163},{"s":2,"x":18.15,"y":168},{"s":2,"x":18.35,"y":164},{"s":2,"x":18.55,"y":170},{"s":2,"x":18.75,"y":175},{"s":2,"x":18.95,"y":180},{"s":2,"x":19.15,"y":187},{"s":2,"x":19.3,"y":172},{"s":2,"x":19.5,"y":166},{"s":2,"x":19.7,"y":170},{"s":2,"x":19.9,"y":166},{"s":2,"x":20.1,"y":175},{"s":2,"x":20.25,"y":200},{"s":2,"x":20.35,"y":239},{"s":2,"x":20.45,"y":200},{"s":2,"x":20.58,"y":172},{"s":2,"x":20.75,"y":168},{"s":2,"x":20.9,"y":175},{"s":2,"x":21.05,"y":190},{"s":2,"x":21.2,"y":232},{"s":2,"x":21.3,"y":195},{"s":2,"x":21.45,"y":172},{"s":2,"x":21.6,"y":166},{"s":2,"x":21.8,"y":171},{"s":2,"x":22.0,"y":166},{"s":2,"x":22.2,"y":170},{"s":2,"x":22.4,"y":165},{"s":2,"x":22.6,"y":170},{"s":2,"x":22.8,"y":167},{"s":2,"x":23.0,"y":172},{"s":2,"x":23.2,"y":170},{"s":2,"x":23.35,"y":180},{"s":2,"x":23.5,"y":215},{"s":2,"x":23.58,"y":272},{"s":2,"x":23.66,"y":230},{"s":2,"x":23.78,"y":195},{"s":2,"x":23.88,"y":180},{"s":2,"x":24.0,"y":172},{"s":2,"x":24.2,"y":167},{"s":2,"x":24.4,"y":171},{"s":2,"x":24.6,"y":166},{"s":2,"x":24.8,"y":170},{"s":2,"x":25.0,"y":166},{"s":2,"x":25.2,"y":172},{"s":2,"x":25.4,"y":178},{"s":2,"x":25.55,"y":199},{"s":2,"x":25.7,"y":190},{"s":2,"x":25.85,"y":230},{"s":2,"x":25.98,"y":320},{"s":2,"x":26.06,"y":480},{"s":2,"x":26.12,"y":380},{"s":2,"x":26.22,"y":260},{"s":2,"x":26.35,"y":220},{"s":2,"x":26.48,"y":240},{"s":2,"x":26.58,"y":272},{"s":2,"x":26.66,"y":230},{"s":2,"x":26.75,"y":215},{"s":2,"x":26.83,"y":225},{"s":2,"x":26.92,"y":200},{"s":2,"x":27.0,"y":205},{"s":2,"x":27.1,"y":215},{"s":2,"x":27.2,"y":195},{"s":2,"x":27.3,"y":200},{"s":2,"x":27.42,"y":212},{"s":2,"x":27.52,"y":190},{"s":2,"x":27.65,"y":176},{"s":2,"x":27.8,"y":170},{"s":2,"x":28.0,"y":175},{"s":2,"x":28.2,"y":169},{"s":2,"x":28.4,"y":174},{"s":2,"x":28.6,"y":168},{"s":2,"x":28.8,"y":173},{"s":2,"x":29.0,"y":169},{"s":2,"x":29.15,"y":176},{"s":2,"x":29.3,"y":200},{"s":2,"x":29.45,"y":272},{"s":2,"x":29.55,"y":230},{"s":2,"x":29.65,"y":190},{"s":2,"x":29.8,"y":175},{"s":2,"x":30.0,"y":170},{"s":2,"x":30.2,"y":174},{"s":2,"x":30.35,"y":194},{"s":2,"x":30.48,"y":176},{"s":2,"x":30.65,"y":170},{"s":2,"x":30.85,"y":175},{"s":2,"x":31.05,"y":169},{"s":2,"x":31.25,"y":174},{"s":2,"x":31.45,"y":168},{"s":2,"x":31.65,"y":173},{"s":2,"x":31.85,"y":169},{"s":2,"x":32.05,"y":178},{"s":2,"x":32.18,"y":202},{"s":2,"x":32.3,"y":180},{"s":2,"x":32.5,"y":172},{"s":2,"x":32.7,"y":176},{"s":2,"x":32.9,"y":170},{"s":2,"x":33.1,"y":175},{"s":2,"x":33.3,"y":171},{"s":2,"x":33.5,"y":178},{"s":2,"x":33.62,"y":195},{"s":2,"x":33.72,"y":239},{"s":2,"x":33.8,"y":210},{"s":2,"x":33.92,"y":190},{"s":2,"x":34.05,"y":184},{"s":2,"x":34.2,"y":180},{"s":2,"x":34.35,"y":176},{"s":2,"x":34.5,"y":180},{"s":2,"x":34.7,"y":174},{"s":2,"x":34.9,"y":178},{"s":2,"x":35.1,"y":183},{"s":2,"x":35.3,"y":192},{"s":2,"x":35.45,"y":180},{"s":2,"x":35.65,"y":178},{"s":2,"x":35.85,"y":185},{"s":2,"x":36.05,"y":194},{"s":2,"x":36.2,"y":180},{"s":2,"x":36.4,"y":172},{"s":2,"x":36.6,"y":168},{"s":2,"x":36.8,"y":172},{"s":2,"x":37.0,"y":167},{"s":2,"x":37.2,"y":171},{"s":2,"x":37.4,"y":166},{"s":2,"x":37.6,"y":170},{"s":2,"x":37.8,"y":166},{"s":2,"x":38.0,"y":171},{"s":2,"x":38.2,"y":167},{"s":2,"x":38.4,"y":172},{"s":2,"x":38.6,"y":168},{"s":2,"x":38.8,"y":174},{"s":2,"x":39.0,"y":180},{"s":2,"x":39.15,"y":187},{"s":2,"x":39.3,"y":175},{"s":2,"x":39.5,"y":172},{"s":2,"x":39.7,"y":178},{"s":2,"x":39.9,"y":171},{"s":2,"x":40.1,"y":175},{"s":2,"x":40.3,"y":170},{"s":2,"x":40.5,"y":174},{"s":2,"x":40.7,"y":170},{"s":2,"x":40.9,"y":176},{"s":2,"x":41.1,"y":180},{"s":2,"x":41.25,"y":183},{"s":2,"x":41.45,"y":176},{"s":2,"x":41.65,"y":182},{"s":2,"x":41.85,"y":188},{"s":2,"x":42.0,"y":195},{"s":2,"x":42.15,"y":182},{"s":2,"x":42.35,"y":176},{"s":2,"x":42.55,"y":170},{"s":2,"x":42.75,"y":174},{"s":2,"x":42.95,"y":169},{"s":2,"x":43.15,"y":173},{"s":2,"x":43.35,"y":169},{"s":2,"x":43.55,"y":176},{"s":2,"x":43.75,"y":185},{"s":2,"x":43.9,"y":175},{"s":2,"x":44.1,"y":170},{"s":2,"x":44.3,"y":175},{"s":2,"x":44.5,"y":170},{"s":2,"x":44.7,"y":177},{"s":2,"x":44.9,"y":172},{"s":2,"x":45.1,"y":176},{"s":2,"x":45.3,"y":170},{"s":2,"x":45.5,"y":174},{"s":2,"x":45.7,"y":169},{"s":2,"x":45.9,"y":173},{"s":2,"x":46.1,"y":168},{"s":2,"x":46.3,"y":172},{"s":2,"x":46.5,"y":168},{"s":2,"x":46.7,"y":174},{"s":2,"x":46.9,"y":178},{"s":2,"x":47.1,"y":180},{"s":2,"x":47.3,"y":176},{"s":2,"x":47.5,"y":184},{"s":2,"x":47.65,"y":172},{"s":2,"x":47.85,"y":167},{"s":2,"x":48.05,"y":171},{"s":2,"x":48.25,"y":166},{"s":2,"x":48.45,"y":170},{"s":2,"x":48.65,"y":166},{"s":2,"x":48.85,"y":171},{"s":2,"x":49.05,"y":167},{"s":2,"x":49.25,"y":172},{"s":2,"x":49.4,"y":180},{"s":2,"x":49.55,"y":195},{"s":2,"x":49.68,"y":209},{"s":2,"x":49.78,"y":190},{"s":2,"x":49.9,"y":175},{"s":2,"x":50.05,"y":168},{"s":2,"x":50.25,"y":172},{"s":2,"x":50.45,"y":167},{"s":2,"x":50.65,"y":171},{"s":2,"x":50.85,"y":166},{"s":2,"x":51.05,"y":171},{"s":2,"x":51.25,"y":167},{"s":2,"x":51.45,"y":173},{"s":2,"x":51.65,"y":170},{"s":2,"x":51.85,"y":176},{"s":2,"x":52.0,"y":182},{"s":2,"x":52.15,"y":192},{"s":2,"x":52.28,"y":178},{"s":2,"x":52.45,"y":177},{"s":2,"x":52.65,"y":172},{"s":2,"x":52.85,"y":176},{"s":2,"x":53.05,"y":171},{"s":2,"x":53.25,"y":175},{"s":2,"x":53.45,"y":170},{"s":2,"x":53.65,"y":175},{"s":2,"x":53.85,"y":178},{"s":2,"x":54.0,"y":184},{"s":2,"x":54.15,"y":176},{"s":2,"x":54.35,"y":180},{"s":2,"x":54.55,"y":174},{"s":2,"x":54.75,"y":170},{"s":2,"x":54.95,"y":174},{"s":2,"x":55.15,"y":169},{"s":2,"x":55.35,"y":173},{"s":2,"x":55.55,"y":168},{"s":2,"x":55.75,"y":172},{"s":2,"x":55.95,"y":168},{"s":2,"x":56.15,"y":173},{"s":2,"x":56.35,"y":169},{"s":2,"x":56.55,"y":174},{"s":2,"x":56.75,"y":171},{"s":2,"x":56.95,"y":176},{"s":2,"x":57.15,"y":173},{"s":2,"x":57.35,"y":179},{"s":2,"x":57.55,"y":175},{"s":2,"x":57.75,"y":171},{"s":2,"x":57.95,"y":175},{"s":2,"x":58.15,"y":178},{"s":2,"x":58.35,"y":183},{"s":2,"x":58.5,"y":187},{"s":2,"x":58.65,"y":176},{"s":2,"x":58.85,"y":173},{"s":2,"x":59.05,"y":170},{"s":2,"x":59.25,"y":176},{"s":2,"x":59.4,"y":183},{"s":2,"x":59.52,"y":190},{"s":2,"x":59.65,"y":178},{"s":2,"x":59.75,"y":173},
{"s":1,"x":5.0,"y":85},{"s":1,"x":5.1,"y":92},{"s":1,"x":5.2,"y":78},{"s":1,"x":5.3,"y":88},{"s":1,"x":5.4,"y":80},{"s":1,"x":5.5,"y":94},{"s":1,"x":5.6,"y":82},{"s":1,"x":5.7,"y":90},{"s":1,"x":5.8,"y":86},{"s":1,"x":5.92,"y":100},{"s":1,"x":6.0,"y":105},{"s":1,"x":6.1,"y":88},{"s":1,"x":6.2,"y":94},{"s":1,"x":6.3,"y":82},{"s":1,"x":6.45,"y":92},{"s":1,"x":6.6,"y":88},{"s":1,"x":6.7,"y":120},{"s":1,"x":6.76,"y":177},{"s":1,"x":6.82,"y":130},{"s":1,"x":6.9,"y":100},{"s":1,"x":7.0,"y":86},{"s":1,"x":7.15,"y":80},{"s":1,"x":7.3,"y":86},{"s":1,"x":7.45,"y":79},{"s":1,"x":7.6,"y":84},{"s":1,"x":7.75,"y":78},{"s":1,"x":7.9,"y":83},{"s":1,"x":8.05,"y":80},{"s":1,"x":8.2,"y":88},{"s":1,"x":8.35,"y":110},{"s":1,"x":8.45,"y":168},{"s":1,"x":8.55,"y":120},{"s":1,"x":8.65,"y":100},{"s":1,"x":8.8,"y":88},{"s":1,"x":8.95,"y":84},{"s":1,"x":9.1,"y":78},{"s":1,"x":9.25,"y":84},{"s":1,"x":9.4,"y":80},{"s":1,"x":9.55,"y":88},{"s":1,"x":9.68,"y":110},{"s":1,"x":9.78,"y":187},{"s":1,"x":9.86,"y":130},{"s":1,"x":9.95,"y":95},{"s":1,"x":10.1,"y":80},{"s":1,"x":10.25,"y":74},{"s":1,"x":10.45,"y":78},{"s":1,"x":10.65,"y":73},{"s":1,"x":10.85,"y":77},{"s":1,"x":11.05,"y":72},{"s":1,"x":11.25,"y":76},{"s":1,"x":11.45,"y":71},{"s":1,"x":11.65,"y":76},{"s":1,"x":11.85,"y":73},{"s":1,"x":12.0,"y":80},{"s":1,"x":12.08,"y":100},{"s":1,"x":12.16,"y":134},{"s":1,"x":12.24,"y":100},{"s":1,"x":12.35,"y":80},{"s":1,"x":12.5,"y":72},{"s":1,"x":12.7,"y":76},{"s":1,"x":12.9,"y":71},{"s":1,"x":13.1,"y":75},{"s":1,"x":13.3,"y":72},{"s":1,"x":13.45,"y":78},{"s":1,"x":13.58,"y":86},{"s":1,"x":13.7,"y":74},{"s":1,"x":13.9,"y":70},{"s":1,"x":14.1,"y":74},{"s":1,"x":14.3,"y":69},{"s":1,"x":14.5,"y":73},{"s":1,"x":14.7,"y":68},{"s":1,"x":14.9,"y":72},{"s":1,"x":15.1,"y":68},{"s":1,"x":15.3,"y":73},{"s":1,"x":15.5,"y":70},{"s":1,"x":15.62,"y":80},{"s":1,"x":15.7,"y":100},{"s":1,"x":15.78,"y":125},{"s":1,"x":15.86,"y":95},{"s":1,"x":15.98,"y":76},{"s":1,"x":16.15,"y":70},{"s":1,"x":16.35,"y":74},{"s":1,"x":16.55,"y":69},{"s":1,"x":16.75,"y":73},{"s":1,"x":16.95,"y":70},{"s":1,"x":17.15,"y":77},{"s":1,"x":17.3,"y":85},{"s":1,"x":17.45,"y":75},{"s":1,"x":17.65,"y":70},{"s":1,"x":17.85,"y":74},{"s":1,"x":18.05,"y":69},{"s":1,"x":18.25,"y":74},{"s":1,"x":18.45,"y":70},{"s":1,"x":18.65,"y":76},{"s":1,"x":18.85,"y":80},{"s":1,"x":19.05,"y":86},{"s":1,"x":19.25,"y":90},{"s":1,"x":19.4,"y":92},{"s":1,"x":19.55,"y":78},{"s":1,"x":19.75,"y":72},{"s":1,"x":19.95,"y":76},{"s":1,"x":20.15,"y":74},{"s":1,"x":20.3,"y":85},{"s":1,"x":20.42,"y":110},{"s":1,"x":20.5,"y":144},{"s":1,"x":20.58,"y":105},{"s":1,"x":20.7,"y":80},{"s":1,"x":20.85,"y":75},{"s":1,"x":21.0,"y":80},{"s":1,"x":21.12,"y":95},{"s":1,"x":21.22,"y":142},{"s":1,"x":21.3,"y":105},{"s":1,"x":21.42,"y":82},{"s":1,"x":21.6,"y":74},{"s":1,"x":21.8,"y":79},{"s":1,"x":22.0,"y":73},{"s":1,"x":22.2,"y":78},{"s":1,"x":22.4,"y":72},{"s":1,"x":22.6,"y":77},{"s":1,"x":22.8,"y":74},{"s":1,"x":23.0,"y":80},{"s":1,"x":23.2,"y":84},{"s":1,"x":23.35,"y":92},{"s":1,"x":23.5,"y":115},{"s":1,"x":23.6,"y":182},{"s":1,"x":23.7,"y":130},{"s":1,"x":23.8,"y":95},{"s":1,"x":23.95,"y":80},{"s":1,"x":24.1,"y":74},{"s":1,"x":24.3,"y":79},{"s":1,"x":24.5,"y":73},{"s":1,"x":24.7,"y":78},{"s":1,"x":24.9,"y":72},{"s":1,"x":25.1,"y":78},{"s":1,"x":25.3,"y":82},{"s":1,"x":25.5,"y":95},{"s":1,"x":25.7,"y":110},{"s":1,"x":25.85,"y":130},{"s":1,"x":26.0,"y":200},{"s":1,"x":26.1,"y":320},{"s":1,"x":26.16,"y":420},{"s":1,"x":26.22,"y":300},{"s":1,"x":26.3,"y":160},{"s":1,"x":26.4,"y":120},{"s":1,"x":26.52,"y":145},{"s":1,"x":26.6,"y":169},{"s":1,"x":26.68,"y":120},{"s":1,"x":26.76,"y":109},{"s":1,"x":26.86,"y":130},{"s":1,"x":26.96,"y":172},{"s":1,"x":27.04,"y":120},{"s":1,"x":27.12,"y":89},{"s":1,"x":27.2,"y":130},{"s":1,"x":27.28,"y":162},{"s":1,"x":27.38,"y":110},{"s":1,"x":27.5,"y":120},{"s":1,"x":27.62,"y":145},{"s":1,"x":27.72,"y":110},{"s":1,"x":27.85,"y":85},{"s":1,"x":28.0,"y":78},{"s":1,"x":28.2,"y":83},{"s":1,"x":28.4,"y":77},{"s":1,"x":28.6,"y":82},{"s":1,"x":28.8,"y":76},{"s":1,"x":29.0,"y":81},{"s":1,"x":29.2,"y":78},{"s":1,"x":29.4,"y":88},{"s":1,"x":29.52,"y":120},{"s":1,"x":29.62,"y":167},{"s":1,"x":29.72,"y":120},{"s":1,"x":29.85,"y":85},{"s":1,"x":30.0,"y":77},{"s":1,"x":30.2,"y":81},{"s":1,"x":30.4,"y":85},{"s":1,"x":30.55,"y":99},{"s":1,"x":30.7,"y":82},{"s":1,"x":30.9,"y":76},{"s":1,"x":31.1,"y":80},{"s":1,"x":31.3,"y":74},{"s":1,"x":31.5,"y":79},{"s":1,"x":31.7,"y":73},{"s":1,"x":31.9,"y":78},{"s":1,"x":32.1,"y":74},{"s":1,"x":32.3,"y":90},{"s":1,"x":32.38,"y":105},{"s":1,"x":32.5,"y":82},{"s":1,"x":32.7,"y":77},{"s":1,"x":32.9,"y":81},{"s":1,"x":33.1,"y":75},{"s":1,"x":33.3,"y":80},{"s":1,"x":33.5,"y":78},{"s":1,"x":33.7,"y":90},{"s":1,"x":33.82,"y":120},{"s":1,"x":33.92,"y":155},{"s":1,"x":34.02,"y":120},{"s":1,"x":34.12,"y":100},{"s":1,"x":34.25,"y":92},{"s":1,"x":34.4,"y":88},{"s":1,"x":34.6,"y":84},{"s":1,"x":34.8,"y":80},{"s":1,"x":35.0,"y":86},{"s":1,"x":35.2,"y":83},{"s":1,"x":35.45,"y":92},{"s":1,"x":35.65,"y":84},{"s":1,"x":35.85,"y":88},{"s":1,"x":36.05,"y":98},{"s":1,"x":36.15,"y":112},{"s":1,"x":36.25,"y":92},{"s":1,"x":36.4,"y":80},{"s":1,"x":36.6,"y":75},{"s":1,"x":36.8,"y":79},{"s":1,"x":37.0,"y":74},{"s":1,"x":37.2,"y":78},{"s":1,"x":37.4,"y":73},{"s":1,"x":37.6,"y":77},{"s":1,"x":37.8,"y":72},{"s":1,"x":38.0,"y":77},{"s":1,"x":38.2,"y":73},{"s":1,"x":38.4,"y":78},{"s":1,"x":38.6,"y":74},{"s":1,"x":38.8,"y":80},{"s":1,"x":38.98,"y":88},{"s":1,"x":39.1,"y":102},{"s":1,"x":39.22,"y":85},{"s":1,"x":39.4,"y":80},{"s":1,"x":39.6,"y":84},{"s":1,"x":39.8,"y":78},{"s":1,"x":40.0,"y":86},{"s":1,"x":40.2,"y":78},{"s":1,"x":40.4,"y":82},{"s":1,"x":40.6,"y":76},{"s":1,"x":40.8,"y":81},{"s":1,"x":41.0,"y":77},{"s":1,"x":41.2,"y":84},{"s":1,"x":41.35,"y":90},{"s":1,"x":41.5,"y":80},{"s":1,"x":41.7,"y":85},{"s":1,"x":41.9,"y":90},{"s":1,"x":42.05,"y":98},{"s":1,"x":42.18,"y":107},{"s":1,"x":42.3,"y":90},{"s":1,"x":42.45,"y":80},{"s":1,"x":42.65,"y":76},{"s":1,"x":42.85,"y":80},{"s":1,"x":43.05,"y":75},{"s":1,"x":43.25,"y":79},{"s":1,"x":43.45,"y":76},{"s":1,"x":43.65,"y":83},{"s":1,"x":43.82,"y":94},{"s":1,"x":43.95,"y":80},{"s":1,"x":44.15,"y":75},{"s":1,"x":44.35,"y":79},{"s":1,"x":44.55,"y":74},{"s":1,"x":44.75,"y":79},{"s":1,"x":44.95,"y":75},{"s":1,"x":45.15,"y":80},{"s":1,"x":45.35,"y":78},{"s":1,"x":45.5,"y":85},{"s":1,"x":45.65,"y":78},{"s":1,"x":45.85,"y":74},{"s":1,"x":46.05,"y":78},{"s":1,"x":46.25,"y":73},{"s":1,"x":46.45,"y":77},{"s":1,"x":46.65,"y":73},{"s":1,"x":46.85,"y":78},{"s":1,"x":47.05,"y":80},{"s":1,"x":47.15,"y":84},{"s":1,"x":47.35,"y":78},{"s":1,"x":47.55,"y":80},{"s":1,"x":47.75,"y":82},{"s":1,"x":47.95,"y":76},{"s":1,"x":48.15,"y":72},{"s":1,"x":48.35,"y":76},{"s":1,"x":48.55,"y":71},{"s":1,"x":48.75,"y":75},{"s":1,"x":48.95,"y":71},{"s":1,"x":49.15,"y":76},{"s":1,"x":49.35,"y":78},{"s":1,"x":49.55,"y":85},{"s":1,"x":49.72,"y":95},{"s":1,"x":49.85,"y":110},{"s":1,"x":49.95,"y":90},{"s":1,"x":50.1,"y":78},{"s":1,"x":50.3,"y":72},{"s":1,"x":50.5,"y":76},{"s":1,"x":50.7,"y":71},{"s":1,"x":50.9,"y":75},{"s":1,"x":51.1,"y":72},{"s":1,"x":51.3,"y":78},{"s":1,"x":51.45,"y":82},{"s":1,"x":51.6,"y":76},{"s":1,"x":51.8,"y":80},{"s":1,"x":52.0,"y":78},{"s":1,"x":52.15,"y":88},{"s":1,"x":52.3,"y":102},{"s":1,"x":52.4,"y":86},{"s":1,"x":52.55,"y":80},{"s":1,"x":52.75,"y":76},{"s":1,"x":52.95,"y":80},{"s":1,"x":53.15,"y":75},{"s":1,"x":53.35,"y":79},{"s":1,"x":53.55,"y":75},{"s":1,"x":53.75,"y":82},{"s":1,"x":53.95,"y":86},{"s":1,"x":54.05,"y":89},{"s":1,"x":54.2,"y":80},{"s":1,"x":54.4,"y":86},{"s":1,"x":54.6,"y":80},{"s":1,"x":54.8,"y":75},{"s":1,"x":55.0,"y":79},{"s":1,"x":55.2,"y":74},{"s":1,"x":55.4,"y":78},{"s":1,"x":55.6,"y":73},{"s":1,"x":55.8,"y":77},{"s":1,"x":56.0,"y":73},{"s":1,"x":56.2,"y":78},{"s":1,"x":56.4,"y":74},{"s":1,"x":56.6,"y":79},{"s":1,"x":56.8,"y":75},{"s":1,"x":57.0,"y":80},{"s":1,"x":57.2,"y":77},{"s":1,"x":57.4,"y":84},{"s":1,"x":57.6,"y":78},{"s":1,"x":57.8,"y":74},{"s":1,"x":58.0,"y":78},{"s":1,"x":58.2,"y":82},{"s":1,"x":58.35,"y":86},{"s":1,"x":58.5,"y":80},{"s":1,"x":58.7,"y":76},{"s":1,"x":58.9,"y":80},{"s":1,"x":59.1,"y":76},{"s":1,"x":59.3,"y":80},{"s":1,"x":59.45,"y":88},{"s":1,"x":59.58,"y":98},{"s":1,"x":59.68,"y":104},{"s":1,"x":59.78,"y":84}
],
"markers":[
{"phase":"Hydroxy-sodalite","x":13.26,"y":528},
{"phase":"Hydroxy-sodalite","x":23.7,"y":570},
{"phase":"Zeolite A","x":6.53,"y":352},
{"phase":"Zeolite A","x":11.9,"y":311},
{"phase":"Zeolite A","x":15.64,"y":304},
{"phase":"Zeolite A","x":29.34,"y":374}
],
"labels":[
{"lab":"5M","x":65.4,"y":462},
{"lab":"4M","x":65.4,"y":361},
{"lab":"3M","x":65.4,"y":282},
{"lab":"2M","x":65.4,"y":198},
{"lab":"1M","x":65.4,"y":116}
]
},
"resolve":{"axis":{"x":"independent"}},
"layer":[
{
"data":{"name":"traces"},
"mark":{"type":"line","color":"black","strokeWidth":2,"strokeJoin":"miter"},
"encoding":{
"x":{"field":"x","type":"quantitative","scale":{"domain":[5,60],"nice":false},
"axis":{"orient":"bottom","values":[5,10,15,20,25,30,35,40,45,50,55,60],"tickSize":10,"tickWidth":1.8,"tickColor":"black","domainColor":"black","domainWidth":2.2,"labelFont":"Liberation Sans","labelFontSize":21,"labelColor":"#333","labelPadding":12,"labelFlush":false,"labelOverlap":false,"title":"2θ/degree","titleFont":"Liberation Serif","titleFontSize":29,"titleFontWeight":"bold","titleColor":"black","titlePadding":22,"titleX":487,"titleAnchor":"start","titleAlign":"center"}},
"y":{"field":"y","type":"quantitative","scale":{"domain":[0,632],"nice":false,"zero":false},"axis":null},
"detail":{"field":"s","type":"nominal"}
}
},
{
"data":{"name":"markers"},
"mark":{"type":"point","shape":"circle","filled":true,"stroke":"black","strokeWidth":1.5,"size":420,"opacity":1},
"encoding":{
"x":{"field":"x","type":"quantitative","axis":{"orient":"bottom","values":[5,6,7,8,9,10,11,12,13,14,15,16,17,18,19,20,21,22,23,24,25,26,27,28,29,30,31,32,33,34,35,36,37,38,39,40,41,42,43,44,45,46,47,48,49,50,51,52,53,54,55,56,57,58,59,60],"tickSize":5,"tickWidth":1.8,"tickColor":"black","domain":false,"labels":false,"title":null}},
"y":{"field":"y","type":"quantitative","axis":null},
"fill":{"field":"phase","type":"nominal","scale":{"domain":["Hydroxy-sodalite","Zeolite A"],"range":["white","black"]},
"legend":{"orient":"none","legendX":595,"legendY":25,"title":null,"symbolType":"circle","symbolSize":220,"symbolStrokeWidth":1.5,"symbolStrokeColor":"black","labelFont":"DejaVu Serif","labelFontSize":26,"labelColor":"black","labelOffset":3,"labelLimit":0,"rowPadding":12}}
}
},
{
"data":{"name":"labels"},
"mark":{"type":"text","font":"Liberation Sans","fontSize":25,"align":"right","baseline":"middle","color":"#222"},
"encoding":{
"x":{"field":"x","type":"quantitative","axis":null},
"y":{"field":"y","type":"quantitative","axis":null},
"text":{"field":"lab","type":"nominal"}
}
}
]
}
